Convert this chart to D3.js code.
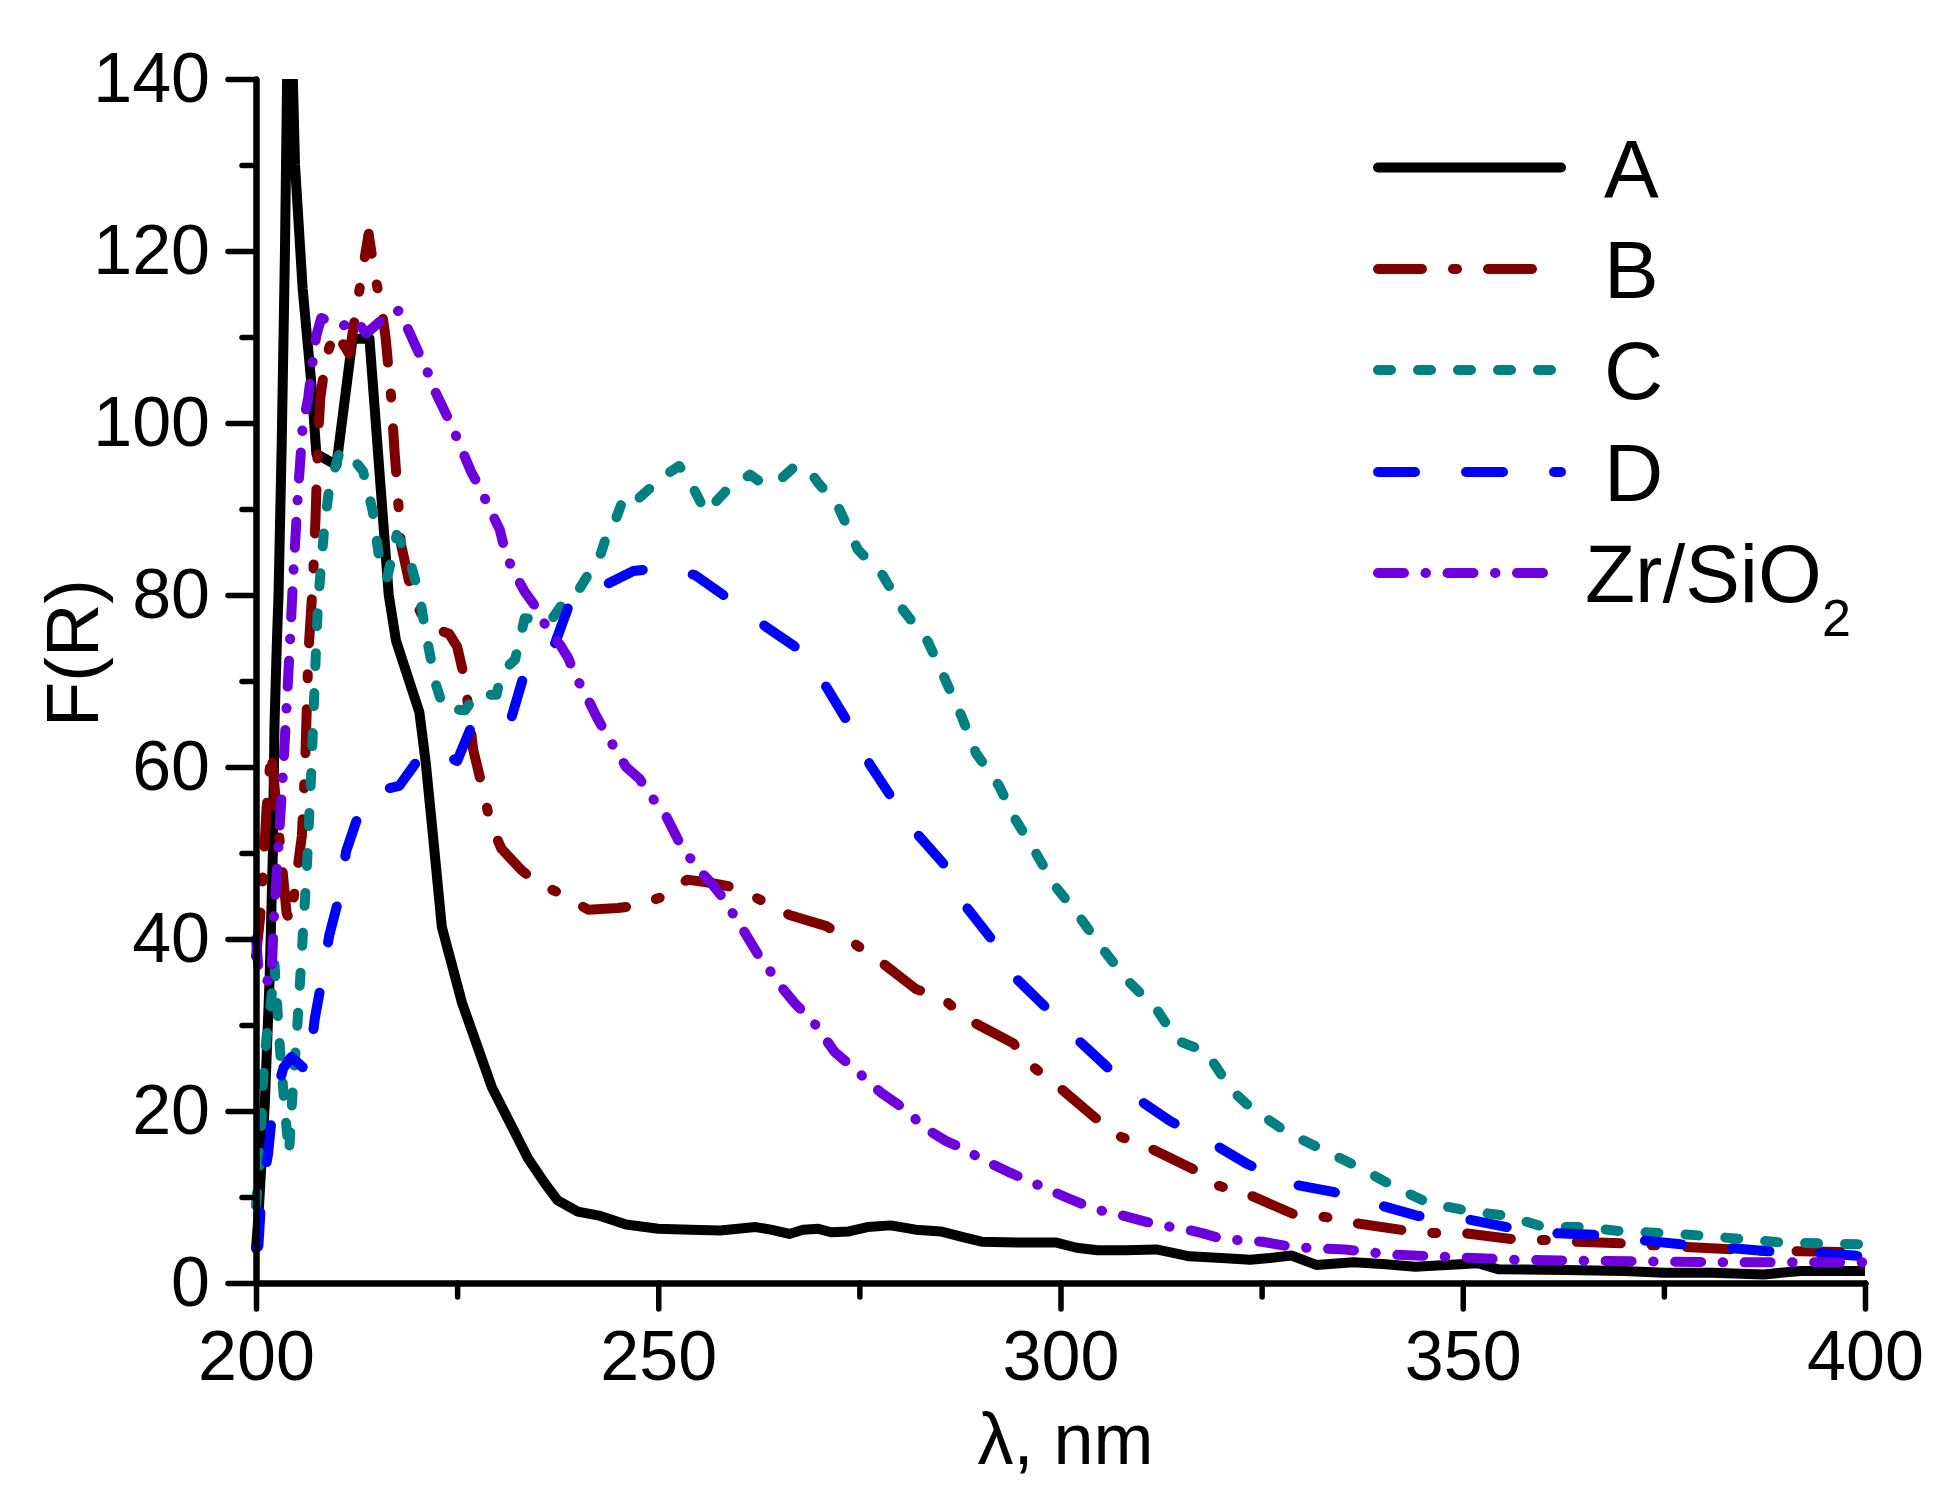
<!DOCTYPE html>
<html>
<head>
<meta charset="utf-8">
<script src="https://cdn.jsdelivr.net/npm/d3@7"></script>
<style>
  html, body { margin: 0; padding: 0; background: #fff; }
  svg { display: block; }
  text { font-family: "Liberation Sans", Arial, sans-serif; fill: #000; }
</style>
</head>
<body>
<svg id="chart" width="1950" height="1495"></svg>
<script>
// ---------------- data ----------------
const xTicksMajor = [200, 250, 300, 350, 400];
const xTicksMinor = [225, 275, 325, 375];
const yTicksMajor = [0, 20, 40, 60, 80, 100, 120, 140];
const yTicksMinor = [10, 30, 50, 70, 90, 110, 130];

const seriesNames = ["A", "B", "C", "D", "Zr/SiO2"];

const seriesA = [
  [200,4],[200.3,7.7],[201.1,20.9],[201.7,35.6],[202.1,50.2],[202.3,64.9],[202.6,74.7],
  [202.8,80],[203.2,97.8],[203.6,120],[204.1,158],[204.85,130],[205.8,115.6],[206.9,104.4],
  [207.5,96.4],[210,95.1],[212,109.8],[214.1,109.8],[216.5,80],[217.4,74.7],[220.3,66.4],
  [221.1,60.5],[222,52],[223.1,41.4],[225.6,32.6],[229.3,22.8],[233.8,14.5],[235.9,11.6],
  [237.5,9.6],[240,8.3],[242.8,7.8],[246,6.8],[250,6.3],[254,6.2],[257.7,6.1],[262.1,6.5],
  [264,6.2],[266.3,5.7],[268,6.2],[269.9,6.3],[271.5,5.9],[273.7,6],[276,6.5],[278.9,6.7],
  [282,6.2],[285.1,6],[288,5.3],[290.2,4.8],[295,4.7],[299.5,4.7],[302,4.1],[304.6,3.8],
  [308,3.8],[311.9,3.9],[314,3.5],[316,3.1],[320,2.9],[323.6,2.7],[326,2.9],[328.7,3.2],
  [331.8,2.1],[336.4,2.4],[340,2.2],[344.1,1.9],[348,2.1],[351.9,2.3],[354.4,1.6],
  [362.7,1.5],[370,1.4],[375,1.2],[381,1.2],[387.4,1],[392,1.4],[400,1.4]
];

const seriesB = [
  [200,38],[200.5,42.4],[200.9,48],[201.3,55],[201.9,62],[202.6,54.6],[203.2,49],[203.8,43],
  [204.3,42],[205,47],[205.7,52],[206.1,60],[206.5,73],[207.1,82],[207.4,89],[207.7,98],
  [208,103],[208.7,107.6],[209.8,110.7],[211.6,108],[212.6,114],[214,122],[214.8,117],
  [215.5,114],[216.1,110],[216.8,103],[217.2,97],[217.6,92],[218,86],[219.4,80],[221.3,76.4],
  [224,75.5],[225,74],[226,70],[227,62],[228.3,57],[229.1,53.6],[230.5,50.5],[233,48],
  [235,46.5],[237.8,45.3],[241.3,43.4],[245,43.6],[247.4,43.9],[250.5,44.9],[253.6,46.9],
  [256,46.6],[259.5,46],[262.6,44.6],[266.3,42.8],[270.9,41.5],[274.3,39.5],[276.9,37.9],
  [282,34.2],[285.6,32.9],[288.4,30.7],[294.1,27.9],[296.5,25.2],[299.8,22.8],[304.2,19.3],
  [307.5,17],[310.9,15.8],[316.6,13.2],[319.7,11.3],[323.6,10.2],[329,8],[332.8,7.7],
  [336.4,7],[342.9,6.1],[346.5,5.8],[350.1,5.8],[356.2,5.1],[360.1,5],[363.7,4.8],
  [370.1,4.6],[373.5,4.4],[377.6,4.2],[383.8,3.9],[387.9,3.7],[392,3.7],[397.2,3.6],[400,3.4]
];

const seriesC = [
  [200,9],[200.5,14.5],[200.9,23.8],[201.3,28.5],[201.9,33],[202.3,37],[203,27],[203.6,20],
  [204.1,15],[204.6,23],[205,28],[205.6,37],[206.3,48],[206.9,60],[207.3,70],[207.7,79],
  [208.5,88],[209.1,92.4],[210.4,96.7],[211.5,96.5],[213.3,94.4],[214.5,89.8],[215.5,83],
  [216.3,82],[217.5,87],[219,84.4],[220.3,80],[221.1,75.6],[222.3,69.8],[223.3,66.8],
  [226,66.6],[227.3,68.4],[229.9,68.4],[230.5,71],[232.2,72.5],[233.4,77.3],[236.7,77.1],
  [238.2,79.1],[240,80.4],[241.7,83],[242.9,84.9],[243.7,87.3],[244.8,89],[245.8,91.6],
  [247.4,91.1],[250.5,93.7],[252.6,95],[253.9,93.3],[255.9,89.6],[258.3,92],[261.4,94],
  [262.9,93],[265,93.3],[266.8,94.8],[268.6,94.7],[269.9,93],[272.2,90.6],[274.8,85.3],
  [277.9,82.3],[280.4,78.3],[283.5,74.6],[285.6,70.3],[287.7,65.9],[289.5,61.6],[292.3,57.9],
  [294.4,53.9],[297,49.9],[299.3,46.2],[302.1,42.9],[305.2,38.9],[308.3,35.2],[311.9,31.9],
  [314.5,28.2],[318.1,26.9],[321.2,22.5],[323.6,20.4],[328.2,17.5],[332.6,15.5],[337,13.5],
  [341.3,11.3],[345.7,9.3],[350.6,8.4],[355.5,7.8],[360.1,6.5],[365,6.5],[369.9,6],
  [375,5.8],[379.9,5.5],[384.8,5.1],[389.7,4.7],[394.6,4.6],[400,4.5]
];

const seriesD = [
  [200,4],[200.3,4.3],[200.7,10.6],[201.5,15],[202.1,20.6],[203.4,25],[204.4,26.3],[206.5,24.5],
  [207.3,30.7],[208.1,34.8],[209.1,40.4],[210.4,45.1],[211.2,50.2],[212.8,54.6],[214.5,57.1],
  [217.8,57.8],[219.5,60],[221.3,62.4],[225,60.7],[227.3,65.9],[231.8,65.9],[233.4,71],
  [237.1,74.2],[239.2,79.6],[243.3,81.1],[246.9,82.8],[251,83.2],[254.6,82.3],[259,79.4],
  [263.4,76.3],[267.3,73.8],[270.9,69.3],[273.5,65.3],[276.3,60.3],[278.9,56.6],[282.2,52.2],
  [285.6,48.6],[288.4,43.6],[291.5,39.9],[294.4,35.5],[298,32.2],[301.9,28.5],[305.7,25.2],
  [309.9,21.2],[313.7,18.8],[318.4,16.5],[323.3,13.8],[328.7,11.5],[333.9,10.6],[339.5,9.1],
  [344.4,7.8],[350.1,7.5],[355.5,6.5],[361.1,5.8],[366.3,5.6],[371.9,5],[377.1,4.5],
  [382.8,4.1],[387.9,3.7],[393.6,3.5],[398.7,3.2],[400,3]
];

const seriesZr = [
  [200,40],[200.4,35.5],[201.9,35],[202.2,42],[202.6,48],[203,54],[203.4,60],[203.8,67],
  [204.2,74],[204.6,81.8],[205.2,91.6],[205.8,99.6],[206.5,103],[207.1,107.6],[207.5,110.2],
  [208.1,112.2],[210.8,111.3],[212.4,112],[213.7,110.4],[215.9,112.2],[217.8,113.1],
  [218.8,111.1],[220.3,108],[221.3,106],[222.1,104],[223.8,100.7],[224.6,99.1],[225.4,97.3],
  [226.8,94.2],[227.9,92.4],[228.7,90.7],[230.3,87.6],[230.9,85.3],[231.8,83.1],[233.4,80.4],
  [234.7,78.7],[235.7,76.9],[237.8,74.2],[238.8,72.7],[239.6,70.8],[241.3,67.8],[242.3,65.9],
  [243.3,64.2],[246,60],[247.7,58.6],[249,56.7],[250.8,54.6],[252.8,50.9],[254.9,48.2],
  [256.5,46.6],[257.7,45.2],[259.8,42.2],[262.4,38.2],[264.2,35.9],[265.5,34.2],[267,32.5],
  [269.4,30.2],[271.9,26.9],[274.5,24.8],[277.6,22.2],[280.2,20.5],[283.5,17.8],[285.8,16.5],
  [288.2,15.5],[290,14.5],[293.8,12.8],[297.7,11.2],[300.6,10],[304.2,8.6],[307.5,7.9],
  [311.9,6.8],[315.3,6.3],[317.6,5.8],[320.2,5.1],[325.1,4.8],[328.7,4.2],[332.6,4],
  [335.4,3.9],[341.1,3.3],[349.3,3],[356.5,2.7],[364.7,2.6],[373.5,2.5],[384,2.4],[400,2.4]
];

// ---------------- layout & style ----------------
const plot = { left: 256, right: 1865, top: 79, bottom: 1283 };
const lineW = 10;
const styles = [
  { color: "#000000", dash: null },
  { color: "#800000", dash: "44,31,4,31" },
  { color: "#008080", dash: "13,27" },
  { color: "#0000ff", dash: "37,51" },
  { color: "#6e00dc", dash: "26,21.5,0.5,21.5" }
];
const allSeries = [seriesA, seriesB, seriesC, seriesD, seriesZr];

const svg = d3.select("#chart");

const x = d3.scaleLinear().domain([200, 400]).range([plot.left, plot.right]);
const y = d3.scaleLinear().domain([0, 140]).range([plot.bottom, plot.top]);

svg.append("defs").append("clipPath").attr("id", "clip")
  .append("rect")
  .attr("x", plot.left - 20).attr("y", plot.top)
  .attr("width", plot.right - plot.left + 40).attr("height", plot.bottom - plot.top + 20);

// series
const line = d3.line().x(d => x(d[0])).y(d => y(d[1]));
const gLines = svg.append("g").attr("clip-path", "url(#clip)");
allSeries.forEach((s, i) => {
  gLines.append("path")
    .datum(s)
    .attr("d", line)
    .attr("fill", "none")
    .attr("stroke", styles[i].color)
    .attr("stroke-width", lineW)
    .attr("stroke-linejoin", "round")
    .attr("stroke-linecap", styles[i].dash ? "round" : "butt")
    .attr("stroke-dasharray", styles[i].dash);
});

// axes
const tickFont = 70;
function styleAxis(g) {
  g.selectAll("path.domain").attr("stroke", "#000").attr("stroke-width", 6)
    .attr("stroke-linecap", "round");
  g.selectAll(".tick line").attr("stroke", "#000").attr("stroke-width", 5.5)
    .attr("stroke-linecap", "round");
  g.selectAll(".tick text")
    .attr("font-family", '"Liberation Sans", Arial, sans-serif')
    .attr("font-size", tickFont).attr("fill", "#000");
}

svg.append("g").attr("transform", `translate(0,${plot.bottom})`)
  .call(d3.axisBottom(x).tickValues(xTicksMinor).tickSize(14).tickSizeOuter(0).tickFormat(""))
  .call(styleAxis);
svg.append("g").attr("transform", `translate(${plot.left},0)`)
  .call(d3.axisLeft(y).tickValues(yTicksMinor).tickSize(14).tickSizeOuter(0).tickFormat(""))
  .call(styleAxis);

svg.append("g").attr("transform", `translate(0,${plot.bottom})`)
  .call(d3.axisBottom(x).tickValues(xTicksMajor).tickSize(26).tickSizeOuter(0).tickPadding(21).tickFormat(d3.format("d")))
  .call(styleAxis);
svg.append("g").attr("transform", `translate(${plot.left},0)`)
  .call(d3.axisLeft(y).tickValues(yTicksMajor).tickSize(28).tickSizeOuter(0).tickPadding(18).tickFormat(d3.format("d")))
  .call(styleAxis);

// axis titles
svg.append("text")
  .attr("x", (plot.left + plot.right) / 2 + 5).attr("y", 1464)
  .attr("text-anchor", "middle").attr("font-size", 72)
  .text("λ, nm");
svg.append("text")
  .attr("transform", `translate(98,${(plot.top + plot.bottom) / 2 - 28}) rotate(-90)`)
  .attr("text-anchor", "middle").attr("font-size", 74)
  .text("F(R)");

// legend
const legRows = [167.5, 269, 370, 472, 573];
const legX0 = 1378, legX1 = 1561;
const legTextX = [1604, 1604, 1604, 1604, 1585];
const legend = svg.append("g");
seriesNames.forEach((name, i) => {
  legend.append("line")
    .attr("x1", legX0).attr("x2", legX1)
    .attr("y1", legRows[i]).attr("y2", legRows[i])
    .attr("stroke", styles[i].color).attr("stroke-width", lineW)
    .attr("stroke-linecap", "round")
    .attr("stroke-dasharray", styles[i].dash);
  const t = legend.append("text")
    .attr("x", legTextX[i]).attr("y", legRows[i] + 29)
    .attr("font-size", 82);
  if (name === "Zr/SiO2") {
    t.append("tspan").text("Zr/SiO");
    t.append("tspan").attr("font-size", 52).attr("dy", 34).text("2");
  } else {
    t.text(name);
  }
});
</script>
</body>
</html>
